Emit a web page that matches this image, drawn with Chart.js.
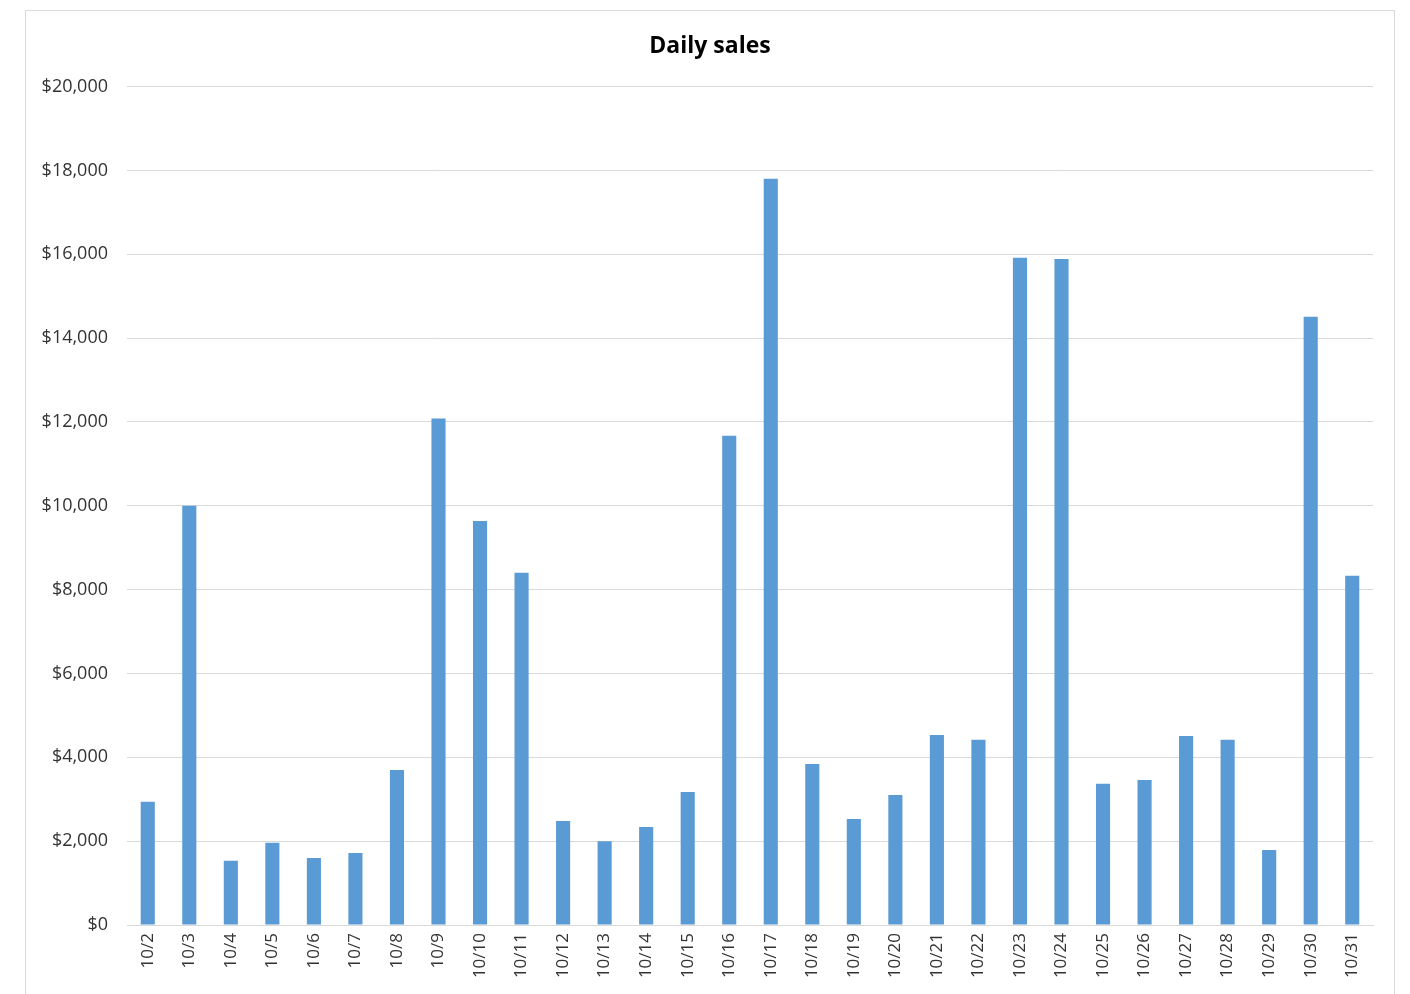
<!DOCTYPE html>
<html>
<head>
<meta charset="utf-8">
<title>Daily sales</title>
<script src="https://cdn.jsdelivr.net/npm/chart.js@4/dist/chart.umd.min.js"></script>
<style>
    html, body { margin: 0; padding: 0; background: #fff; overflow: hidden; }
    .frame {
        position: absolute;
        left: 25px;
        top: 10px;
        width: 1368px;
        height: 1000px;
        border: 1px solid #d9d9d9;
    }
    .frame canvas { display: block; }
</style>
</head>
<body>
<div class="frame">
    <canvas id="salesChart" width="1368" height="983"></canvas>
</div>
<script>
// 每日销售额数据
const days = ['10/2', '10/3', '10/4', '10/5', '10/6', '10/7', '10/8', '10/9', '10/10', '10/11',
    '10/12', '10/13', '10/14', '10/15', '10/16', '10/17', '10/18', '10/19', '10/20', '10/21',
    '10/22', '10/23', '10/24', '10/25', '10/26', '10/27', '10/28', '10/29', '10/30', '10/31'];
const sales = [2940, 10000, 1530, 1960, 1600, 1720, 3700, 12080, 9640, 8400,
    2480, 2000, 2340, 3170, 11670, 17800, 3840, 2530, 3100, 4530,
    4420, 15920, 15890, 3370, 3460, 4510, 4420, 1790, 14510, 8330];
const yTicks = [0, 2000, 4000, 6000, 8000, 10000, 12000, 14000, 16000, 18000, 20000];

const textColor = '#333333';
const gridColor = '#d9d9d9';
const fontFamily = '"Open Sans", "Noto Sans", sans-serif';

// 标题以整个画布居中（不受右侧留白影响）
const centerTitle = {
    id: 'centerTitle',
    afterLayout(chart) {
        if (chart.titleBlock) {
            chart.titleBlock.left = 0;
            chart.titleBlock.right = chart.width;
            chart.titleBlock.width = chart.width;
        }
    }
};

const ctx = document.getElementById('salesChart').getContext('2d');
const chart = new Chart(ctx, {
    type: 'bar',
    data: {
        labels: days,
        datasets: [{
            label: 'Sales',
            data: sales,
            backgroundColor: '#5b9bd5',
            borderWidth: 0,
            barPercentage: 0.34,
            categoryPercentage: 1
        }]
    },
    plugins: [centerTitle],
    options: {
        responsive: false,
        animation: false,
        layout: {
            padding: { left: 0, right: 21, top: 0, bottom: 0 }
        },
        plugins: {
            legend: { display: false },
            tooltip: { enabled: false },
            title: {
                display: true,
                text: 'Daily sales',
                color: '#000',
                font: { family: fontFamily, size: 23, weight: 'bold', lineHeight: 1.2 },
                padding: { top: 22, bottom: 26 }
            }
        },
        scales: {
            x: {
                grid: { display: false, drawTicks: false },
                border: { display: true, color: gridColor, width: 1 },
                ticks: {
                    color: textColor,
                    font: { family: fontFamily, size: 17 },
                    minRotation: 90,
                    maxRotation: 90,
                    autoSkip: false,
                    padding: 8
                },
                afterFit: (scale) => { scale.height = 69; }
            },
            y: {
                min: 0,
                max: 20000,
                afterBuildTicks: (scale) => {
                    scale.ticks = yTicks.map(v => ({ value: v }));
                },
                grid: { color: gridColor, drawTicks: false },
                border: { display: false },
                ticks: {
                    color: textColor,
                    font: { family: fontFamily, size: 18 },
                    padding: 19,
                    callback: (value) => '$' + value.toLocaleString('en-US')
                },
                afterFit: (scale) => { scale.width = 101; }
            }
        }
    }
});
</script>
</body>
</html>
